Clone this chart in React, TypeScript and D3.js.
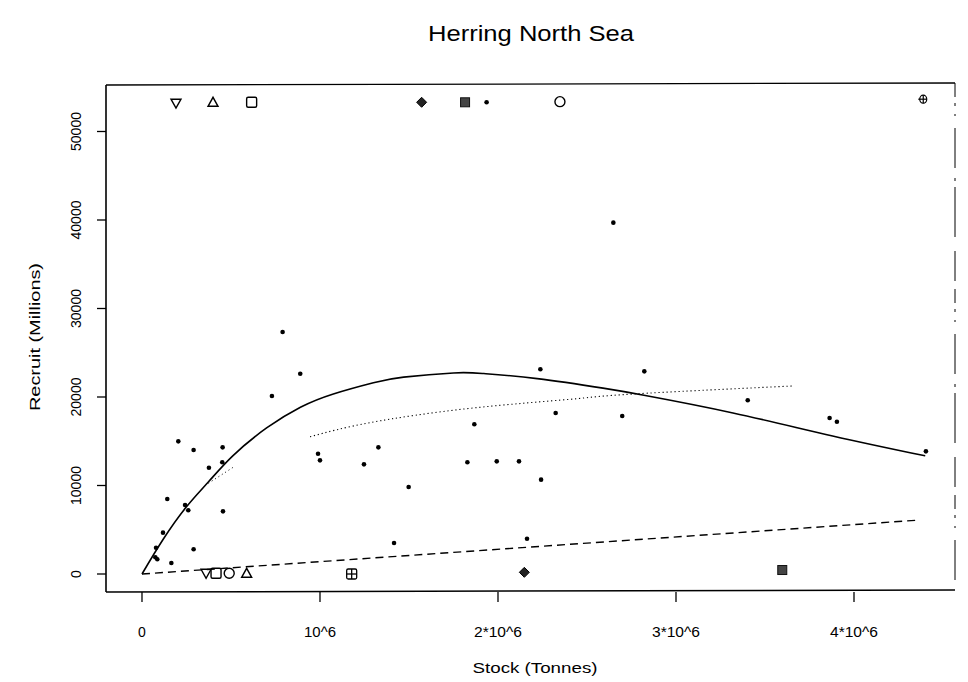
import React from "react";
import * as d3 from "d3";

// Observed stock (tonnes) / recruit (millions) points
const dotStock = [0.79e6, 0.889e6, 0.73e6, 0.204e6, 0.29e6, 0.453e6, 0.376e6, 0.451e6, 0.989e6, 1.0e6, 1.247e6, 1.328e6, 0.142e6, 0.242e6, 0.26e6, 0.455e6, 0.118e6, 0.079e6, 0.075e6, 0.086e6, 0.29e6, 0.165e6, 2.238e6, 2.822e6, 2.324e6, 2.698e6, 1.867e6, 1.828e6, 1.993e6, 2.118e6, 2.242e6, 1.498e6, 1.416e6, 2.163e6, 2.648e6, 3.403e6, 3.863e6, 3.904e6, 4.404e6];
const dotRecruit = [27345, 22630, 20110, 14990, 14010, 14310, 12010, 12620, 13590, 12840, 12390, 14310, 8470, 7800, 7200, 7080, 4670, 2970, 1890, 1660, 2790, 1240, 23130, 22900, 18190, 17850, 16920, 12620, 12730, 12730, 10660, 9830, 3500, 3990, 39700, 19630, 17630, 17210, 13860];

// Special symbols along top and bottom
const symStock = [0.191e6, 0.399e6, 0.616e6, 1.571e6, 1.815e6, 1.936e6, 2.348e6, 4.389e6, 0.36e6, 0.416e6, 0.49e6, 0.588e6, 1.178e6, 2.148e6, 3.597e6];
const symRecruit = [53200, 53300, 53300, 53300, 53300, 53300, 53370, 53650, 80, 80, 80, 80, 0, 190, 450];
const symType = ["tridown", "triup", "square", "diamond", "fsquare", "dot", "circle", "cplus", "tridown", "square", "circle", "triup", "splus", "diamond", "fsquare"];

// Fitted curves
const solidStock = [0, 0.12e6, 0.25e6, 0.375e6, 0.51e6, 0.7e6, 0.89e6, 1.075e6, 1.3e6, 1.47e6, 1.75e6, 1.92e6, 2.22e6, 2.59e6, 2.82e6, 3.32e6, 3.88e6, 4.4e6];
const solidRecruit = [0, 3950, 7600, 10450, 13350, 16500, 18850, 20350, 21620, 22250, 22720, 22650, 22080, 21000, 20200, 18200, 15600, 13350];
const dottedStock = [0.944e6, 1.281e6, 1.843e6, 2.404e6, 2.76e6, 3.65e6];
const dottedRecruit = [15510, 17100, 18720, 19740, 20340, 21240];
const dotted2Stock = [0.373e6, 0.517e6];
const dotted2Recruit = [10250, 12120];
const dashedStock = [0, 4.37e6];
const dashedRecruit = [0, 6100];

const xTicks = [0, 1e6, 2e6, 3e6, 4e6];
const xTickLabels = ["0", "10^6", "2*10^6", "3*10^6", "4*10^6"];
const yTicks = [0, 10000, 20000, 30000, 40000, 50000];
const yTickLabels = ["0", "10000", "20000", "30000", "40000", "50000"];

const W = 968, H = 682;
const L = 106, R = 955, T = 85, B = 592;

export default function App() {
  const x = d3.scaleLinear().domain([-0.2022e6, 4.5674e6]).range([L, R]);
  const y = d3.scaleLinear().domain([-2034, 55254]).range([B, T]);
  const font = "'Liberation Sans', Arial, Helvetica, sans-serif";

  const mk = (xs: number[], ys: number[]) => xs.map((v, i) => [v, ys[i]] as [number, number]);
  const curve = d3.line<[number, number]>().x(d => x(d[0])).y(d => y(d[1])).curve(d3.curveNatural);
  const straight = d3.line<[number, number]>().x(d => x(d[0])).y(d => y(d[1]));

  const symbol = (t: string, cx: number, cy: number, i: number) => {
    const s = 5;
    const sw = 1.4;
    switch (t) {
      case "tridown":
        return <path key={i} d={`M${cx - s},${cy - 4}L${cx + s},${cy - 4}L${cx},${cy + 5}Z`} fill="none" stroke="#000" strokeWidth={sw} />;
      case "triup":
        return <path key={i} d={`M${cx - s},${cy + 4}L${cx + s},${cy + 4}L${cx},${cy - 5}Z`} fill="none" stroke="#000" strokeWidth={sw} />;
      case "square":
        return <rect key={i} x={cx - s} y={cy - s} width={2 * s} height={2 * s} rx={1.5} fill="none" stroke="#000" strokeWidth={sw} />;
      case "circle":
        return <circle key={i} cx={cx} cy={cy} r={s} fill="none" stroke="#000" strokeWidth={sw} />;
      case "diamond":
        return <path key={i} d={`M${cx},${cy - s}L${cx + s},${cy}L${cx},${cy + s}L${cx - s},${cy}Z`} fill="#222" stroke="#000" strokeWidth={1} />;
      case "fsquare":
        return <rect key={i} x={cx - 4.5} y={cy - 4.5} width={9} height={9} fill="#444" stroke="#111" strokeWidth={1} />;
      case "dot":
        return <circle key={i} cx={cx} cy={cy} r={2.3} fill="#000" />;
      case "cplus":
        return (
          <g key={i} fill="none" stroke="#000" strokeWidth={1.2}>
            <ellipse cx={cx} cy={cy} rx={3.5} ry={4} />
            <line x1={cx - 5} y1={cy} x2={cx + 3.5} y2={cy} />
            <line x1={cx} y1={cy - 4} x2={cx} y2={cy + 4} />
          </g>
        );
      case "splus":
        return (
          <g key={i} fill="none" stroke="#000" strokeWidth={1.3}>
            <rect x={cx - s} y={cy - s} width={2 * s} height={2 * s} rx={1.5} />
            <line x1={cx - s} y1={cy} x2={cx + s} y2={cy} />
            <line x1={cx} y1={cy - s} x2={cx} y2={cy + s} />
          </g>
        );
      default:
        return null;
    }
  };

  const tickLen = (lab: string) => (lab.length === 1 ? undefined : lab.length === 4 ? 32 : 48);

  return (
    <svg width={W} height={H} style={{ position: "absolute", left: 0, top: 0, background: "#fff" }}>
      <rect x={0} y={0} width={W} height={H} fill="#fff" />
      <text x={531} y={41} textAnchor="middle" fontFamily={font} fontSize={22} textLength={206} lengthAdjust="spacingAndGlyphs">Herring North Sea</text>

      {/* box */}
      <line x1={L} y1={T} x2={R} y2={T - 2} stroke="#000" strokeWidth={1.3} />
      <line x1={L} y1={T} x2={L} y2={B} stroke="#000" strokeWidth={1.6} />
      <line x1={L} y1={B} x2={R} y2={B - 2} stroke="#000" strokeWidth={1.5} />
      <line x1={R} y1={T - 2} x2={R} y2={B - 2} stroke="#000" strokeWidth={1} strokeDasharray="14,6,3,8,2,12,40,10,3,6,50,14,30,8" />

      {/* x axis ticks */}
      {xTicks.map((t, i) => (
        <g key={"xt" + i}>
          <line x1={x(t)} y1={B} x2={x(t)} y2={B + 10} stroke="#000" strokeWidth={1.3} />
          <text x={x(t)} y={637} textAnchor="middle" fontFamily={font} fontSize={14} textLength={tickLen(xTickLabels[i])} lengthAdjust="spacingAndGlyphs">{xTickLabels[i]}</text>
        </g>
      ))}
      {/* y axis ticks */}
      {yTicks.map((t, i) => (
        <g key={"yt" + i}>
          <line x1={L} y1={y(t)} x2={L - 9} y2={y(t)} stroke="#000" strokeWidth={1.3} />
          <text transform={`translate(81,${y(t)}) rotate(-90)`} textAnchor="middle" fontFamily={font} fontSize={14}>{yTickLabels[i]}</text>
        </g>
      ))}

      <text x={535} y={673} textAnchor="middle" fontFamily={font} fontSize={15} textLength={125} lengthAdjust="spacingAndGlyphs">Stock (Tonnes)</text>
      <text transform={`translate(40,337) rotate(-90)`} textAnchor="middle" fontFamily={font} fontSize={15} textLength={148} lengthAdjust="spacingAndGlyphs">Recruit (Millions)</text>

      {/* curves */}
      <path d={curve(mk(solidStock, solidRecruit)) || ""} fill="none" stroke="#000" strokeWidth={1.6} />
      <path d={curve(mk(dottedStock, dottedRecruit)) || ""} fill="none" stroke="#000" strokeWidth={1.1} strokeDasharray="1.2,2.8" />
      <path d={straight(mk(dotted2Stock, dotted2Recruit)) || ""} fill="none" stroke="#000" strokeWidth={1} strokeDasharray="1,3" />
      <path d={straight(mk(dashedStock, dashedRecruit)) || ""} fill="none" stroke="#000" strokeWidth={1.4} strokeDasharray="8,5" />

      {/* observed points */}
      {dotStock.map((s, i) => (
        <circle key={"d" + i} cx={x(s)} cy={y(dotRecruit[i])} r={2.3} fill="#000" />
      ))}

      {/* symbols */}
      {symStock.map((s, i) => symbol(symType[i], x(s), y(symRecruit[i]), i))}
    </svg>
  );
}
